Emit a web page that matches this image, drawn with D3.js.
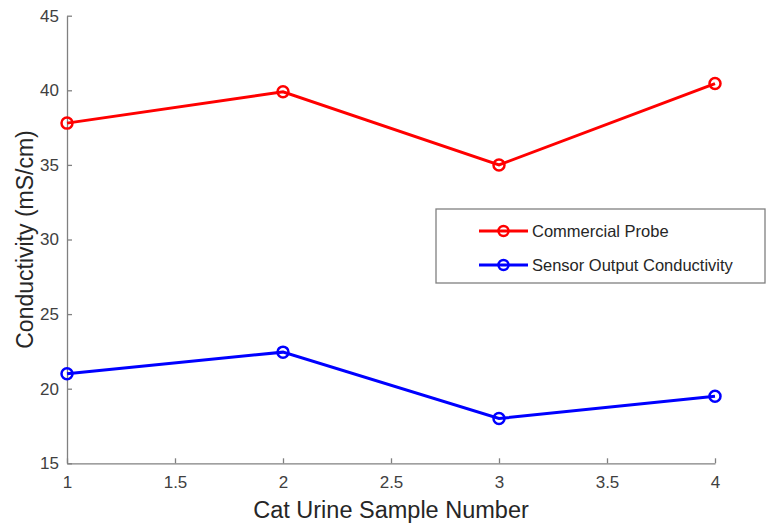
<!DOCTYPE html>
<html><head><meta charset="utf-8">
<script src="https://cdn.jsdelivr.net/npm/d3@7"></script>
<style>body{margin:0;background:#fff}svg{display:block}</style>
</head><body>
<svg id="c" width="766" height="527"></svg>
<script>
const samples = [1, 2, 3, 4];
const commercialProbe = [37.8, 39.9, 35.0, 40.45];
const sensorOutput = [21.0, 22.45, 18.0, 19.5];
const xTicks = [1, 1.5, 2, 2.5, 3, 3.5, 4];
const yTicks = [15, 20, 25, 30, 35, 40, 45];
const seriesNames = ["Commercial Probe", "Sensor Output Conductivity"];
const seriesColors = ["#ff0000", "#0000ff"];

const svg = d3.select("#c");
const m = {l: 67, r: 715, t: 15.7, b: 463.3};
const x = d3.scaleLinear().domain([1, 4]).range([m.l, m.r]);
const y = d3.scaleLinear().domain([15, 45]).range([m.b, m.t]);
const font = "Helvetica, Arial, 'Liberation Sans', sans-serif";
const axisCol = "#808080";
const textCol = "#404040";

const xa = svg.append("g").attr("transform", `translate(0,${m.b})`)
  .call(d3.axisBottom(x).tickValues(xTicks).tickSizeInner(-5).tickSizeOuter(0).tickPadding(13).tickFormat(d3.format("")));
const ya = svg.append("g").attr("transform", `translate(${m.l},0)`)
  .call(d3.axisLeft(y).tickValues(yTicks).tickSizeInner(-5).tickSizeOuter(0).tickPadding(8));
[xa, ya].forEach(a => {
  a.select(".domain").attr("stroke", axisCol).attr("stroke-width", 1.3);
  a.selectAll(".tick line").attr("stroke", axisCol).attr("stroke-width", 1.3);
  a.selectAll("text").attr("fill", textCol).style("font-family", font).style("font-size", "17px");
});

svg.append("text").attr("x", (m.l + m.r) / 2).attr("y", 518).attr("text-anchor", "middle")
  .attr("fill", "#262626").style("font-family", font).style("font-size", "23.5px").text("Cat Urine Sample Number");
svg.append("text").attr("transform", `translate(33,${(m.t + m.b) / 2}) rotate(-90)`).attr("text-anchor", "middle")
  .attr("fill", "#262626").style("font-family", font).style("font-size", "23px").text("Conductivity (mS/cm)");

const data = [commercialProbe, sensorOutput];
const line = d3.line().x((d, i) => x(samples[i])).y(d => y(d));
data.forEach((s, k) => {
  svg.append("path").datum(s).attr("d", line).attr("fill", "none")
    .attr("stroke", seriesColors[k]).attr("stroke-width", 3);
  svg.selectAll(null).data(s).enter().append("circle")
    .attr("cx", (d, i) => x(samples[i])).attr("cy", d => y(d)).attr("r", 5.5)
    .attr("fill", "none").attr("stroke", seriesColors[k]).attr("stroke-width", 2.5);
});

// legend
const lg = svg.append("g");
lg.append("rect").attr("x", 436).attr("y", 209).attr("width", 329).attr("height", 74)
  .attr("fill", "#fff").attr("stroke", axisCol).attr("stroke-width", 1.3);
seriesNames.forEach((n, k) => {
  const yy = 231 + k * 34;
  lg.append("line").attr("x1", 479).attr("x2", 528).attr("y1", yy).attr("y2", yy)
    .attr("stroke", seriesColors[k]).attr("stroke-width", 3);
  lg.append("circle").attr("cx", 503.5).attr("cy", yy).attr("r", 5).attr("fill", "none")
    .attr("stroke", seriesColors[k]).attr("stroke-width", 2.5);
  lg.append("text").attr("x", 532).attr("y", yy + 6).attr("fill", "#262626")
    .style("font-family", font).style("font-size", "16.5px").text(n);
});
</script>
</body></html>
